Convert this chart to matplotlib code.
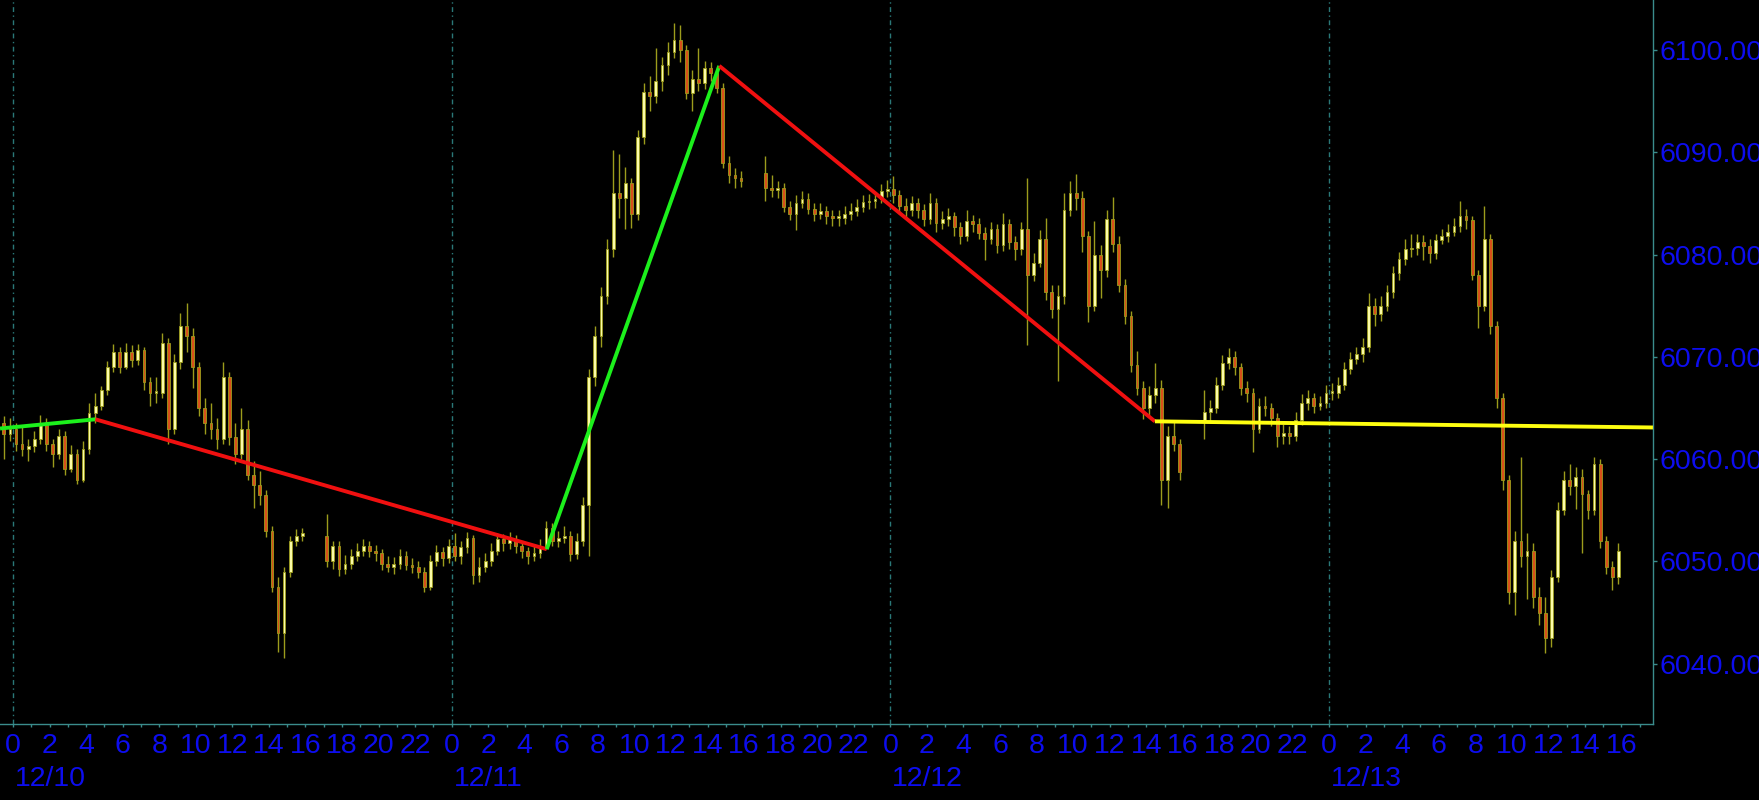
import numpy as np
import matplotlib
matplotlib.use('Agg')
from matplotlib import pyplot as plt
import matplotlib.transforms as mtransforms

# hours are counted from 12/10 00:00, one bar = 20 minutes
sess_start = [-0.67, 17.0, 41.0, 65.0]
sess_open = [6063.5, 6052.5, 6088.0, 6063.6]

# 12/09 23:20 -> 12/10 16:00
close_a = [6062.5, 6063.0, 6061.5, 6061.0, 6061.3, 6062.0, 6063.5, 6061.5, 6060.5, 6062.3,
           6059.0, 6060.5, 6058.0, 6061.0, 6064.5, 6065.2, 6066.8, 6069.0, 6070.5, 6069.0,
           6070.5, 6069.7, 6070.7, 6067.5, 6066.5, 6066.5, 6071.4, 6063.0, 6069.5, 6073.0,
           6072.0, 6069.0, 6065.0, 6063.5, 6063.0, 6062.0, 6068.0, 6062.2, 6060.5, 6063.0,
           6058.5, 6057.5, 6056.5, 6053.0, 6047.5, 6043.0, 6049.0, 6052.0, 6052.5, 6052.8]
high_a = [6064.2, 6064.0, 6063.5, 6063.3, 6062.0, 6062.8, 6064.3, 6064.0, 6062.0, 6063.0,
          6062.8, 6061.4, 6061.0, 6061.8, 6065.5, 6066.5, 6067.2, 6069.6, 6071.3, 6071.0,
          6071.4, 6071.2, 6071.3, 6071.0, 6068.0, 6068.0, 6072.3, 6071.8, 6070.3, 6074.3,
          6075.3, 6072.8, 6069.5, 6066.0, 6065.5, 6064.0, 6069.5, 6068.5, 6063.5, 6065.0,
          6063.8, 6059.8, 6058.8, 6057.0, 6053.5, 6048.5, 6049.5, 6052.5, 6053.2, 6053.3]
low_a = [6060.0, 6061.8, 6060.8, 6060.3, 6059.8, 6060.7, 6061.5, 6060.8, 6059.2, 6060.0,
         6058.5, 6058.7, 6057.6, 6057.8, 6060.5, 6063.5, 6064.8, 6066.3, 6068.5, 6068.4,
         6068.8, 6069.0, 6069.2, 6066.8, 6065.2, 6065.5, 6066.0, 6061.5, 6062.5, 6068.8,
         6070.5, 6067.0, 6064.2, 6062.5, 6062.0, 6061.0, 6061.5, 6061.4, 6059.5, 6060.0,
         6058.0, 6055.2, 6055.5, 6052.4, 6047.0, 6041.2, 6040.6, 6048.5, 6051.5, 6052.0]

# 12/10 17:00 -> 12/11 16:00
close_b = [6050.0, 6051.5, 6049.3, 6049.8, 6050.5, 6051.0, 6051.5, 6051.0, 6050.8, 6049.8,
           6049.5, 6049.8, 6050.5, 6049.7, 6049.5, 6049.0, 6047.5, 6050.0, 6050.9, 6050.3,
           6051.5,
           6050.5, 6051.4, 6052.3, 6048.7, 6049.5, 6050.0, 6051.0, 6052.2, 6051.8, 6052.2,
           6051.5, 6051.0, 6050.5, 6050.8, 6051.5, 6053.3, 6052.0, 6052.3, 6052.5, 6050.7,
           6052.0, 6055.5, 6068.0, 6072.0, 6076.0, 6080.5, 6086.0, 6085.5, 6087.0, 6084.0,
           6091.5, 6095.9, 6095.5, 6097.0, 6098.5, 6099.8, 6101.0, 6100.0, 6095.8, 6097.2,
           6096.8, 6098.2, 6097.8, 6096.3, 6089.0, 6087.8, 6087.5, 6087.2]
high_b = [6054.6, 6052.0, 6052.0, 6050.6, 6051.2, 6051.8, 6052.2, 6052.0, 6051.6, 6051.2,
          6050.5, 6050.4, 6051.2, 6051.0, 6050.3, 6050.0, 6049.5, 6050.6, 6051.6, 6051.4,
          6052.2,
          6052.8, 6052.0, 6052.9, 6052.6, 6050.4, 6050.8, 6051.8, 6052.8, 6052.7, 6052.9,
          6052.6, 6052.0, 6051.4, 6051.5, 6052.2, 6054.0, 6053.8, 6053.0, 6053.5, 6053.0,
          6052.8, 6056.3, 6068.8, 6073.0, 6076.8, 6081.5, 6090.2, 6089.8, 6088.6, 6087.5,
          6092.2, 6096.8, 6097.5, 6100.2, 6099.3, 6100.8, 6102.6, 6102.4, 6100.5, 6098.0,
          6100.2, 6098.9, 6098.8, 6098.3, 6096.8, 6089.6, 6088.5, 6088.2]
low_b = [6049.5, 6049.3, 6048.6, 6048.8, 6049.3, 6050.0, 6050.5, 6050.4, 6050.0, 6049.2,
         6049.0, 6048.8, 6049.3, 6049.2, 6048.9, 6048.4, 6047.0, 6047.2, 6049.6, 6049.6,
         6049.9,
         6050.0, 6049.8, 6050.8, 6047.8, 6048.0, 6049.0, 6049.6, 6050.6, 6051.0, 6051.2,
         6050.8, 6050.3, 6049.8, 6050.0, 6050.3, 6051.2, 6051.5, 6051.4, 6051.8, 6050.0,
         6050.2, 6051.5, 6050.5, 6067.2, 6071.0, 6075.2, 6079.8, 6083.6, 6082.5, 6082.6,
         6083.4, 6090.8, 6094.0, 6094.8, 6096.0, 6097.6, 6099.2, 6098.8, 6095.2, 6094.0,
         6096.0, 6096.2, 6097.0, 6095.8, 6088.5, 6087.0, 6086.5, 6086.6]

# 12/11 17:00 -> 12/12 16:00
close_c = [6086.5, 6086.3, 6086.5, 6084.7, 6084.0, 6085.0, 6085.4, 6084.5, 6084.0, 6084.3,
           6083.8, 6083.6, 6083.6, 6084.0, 6084.3, 6084.7, 6085.1, 6085.2, 6085.4, 6086.2,
           6086.4,
           6085.8, 6084.8, 6084.4, 6085.0, 6084.4, 6083.5, 6085.0, 6083.1, 6083.5, 6083.8,
           6082.7, 6081.8, 6083.3, 6083.0, 6082.1, 6081.5, 6082.5, 6080.9, 6083.0, 6081.2,
           6080.5, 6082.5, 6078.0, 6079.2, 6081.5, 6076.3, 6074.7, 6076.0, 6084.4, 6086.0,
           6085.5, 6081.8, 6075.0, 6080.0, 6078.5, 6083.5, 6081.0, 6077.0, 6074.0, 6069.2,
           6067.0, 6065.0, 6066.3, 6067.0, 6058.0, 6062.3, 6061.5, 6058.7]
high_c = [6089.6, 6087.8, 6087.2, 6087.0, 6085.2, 6085.8, 6086.2, 6086.0, 6085.0, 6085.0,
          6084.8, 6084.4, 6084.4, 6084.8, 6085.0, 6085.4, 6085.8, 6085.9, 6086.0, 6086.9,
          6087.3,
          6087.7, 6086.3, 6085.5, 6085.7, 6085.5, 6084.9, 6086.0, 6085.5, 6084.3, 6084.6,
          6084.2, 6083.2, 6084.4, 6083.9, 6083.6, 6082.7, 6083.2, 6083.0, 6084.1, 6083.5,
          6081.8, 6083.2, 6087.5, 6080.2, 6082.4, 6083.6, 6077.0, 6077.0, 6086.0, 6087.2,
          6087.9, 6086.2, 6082.3, 6083.3, 6080.9, 6084.4, 6085.6, 6081.8, 6077.6, 6074.5,
          6070.6, 6067.6, 6067.2, 6069.4, 6067.7, 6063.2, 6063.6, 6062.0]
low_c = [6085.2, 6085.6, 6085.5, 6084.2, 6083.4, 6082.4, 6084.6, 6084.0, 6083.3, 6083.5,
         6083.0, 6082.8, 6082.8, 6083.0, 6083.4, 6083.8, 6084.2, 6084.5, 6084.6, 6085.0,
         6085.6,
         6085.0, 6084.0, 6083.6, 6083.8, 6083.6, 6082.8, 6083.0, 6082.2, 6082.5, 6082.8,
         6081.8, 6081.0, 6081.3, 6082.2, 6081.5, 6079.5, 6081.0, 6080.2, 6080.4, 6080.5,
         6079.5, 6080.0, 6071.2, 6077.4, 6078.8, 6075.6, 6073.8, 6067.6, 6075.2, 6083.8,
         6084.4, 6080.3, 6073.4, 6074.5, 6075.8, 6077.8, 6080.3, 6076.3, 6073.2, 6068.5,
         6066.3, 6063.9, 6064.3, 6065.5, 6055.5, 6055.2, 6060.8, 6058.0]

# 12/12 17:00 -> 12/13 16:00
close_d = [6064.6, 6065.0, 6067.3, 6069.4, 6070.0, 6069.0, 6067.0, 6066.5, 6063.0, 6065.2,
           6065.0, 6064.0, 6062.3, 6062.6, 6062.3, 6063.8, 6065.5, 6066.0, 6065.2, 6065.5,
           6066.5,
           6066.5, 6067.3, 6068.8, 6069.8, 6070.3, 6071.0, 6075.0, 6074.2, 6075.0, 6076.3,
           6078.2, 6079.6, 6080.5, 6080.6, 6081.2, 6080.8, 6080.2, 6081.4, 6081.8, 6082.2,
           6082.8, 6083.8, 6083.4, 6078.0, 6075.0, 6081.5, 6073.0, 6066.0, 6058.0, 6047.0,
           6052.0, 6050.5, 6051.0, 6046.5, 6045.0, 6042.5, 6048.5, 6055.0, 6058.0, 6057.4,
           6058.3, 6056.6, 6055.0, 6059.5, 6052.0, 6049.5, 6048.5, 6051.0]
high_d = [6066.8, 6065.8, 6068.0, 6070.2, 6070.9, 6070.6, 6069.4, 6067.6, 6067.0, 6066.0,
          6066.2, 6065.5, 6064.5, 6063.4, 6063.2, 6064.6, 6066.4, 6066.8, 6066.5, 6066.2,
          6067.3,
          6067.4, 6068.0, 6069.5, 6070.5, 6071.0, 6071.8, 6076.2, 6075.8, 6076.0, 6077.0,
          6078.9, 6080.3, 6081.5, 6082.0, 6082.0, 6081.9, 6081.5, 6082.0, 6082.5, 6083.0,
          6083.6, 6085.2, 6084.5, 6083.8, 6078.5, 6084.8, 6082.0, 6073.5, 6066.5, 6058.5,
          6053.0, 6060.2, 6052.8, 6051.8, 6047.5, 6046.5, 6049.2, 6055.8, 6058.8, 6059.5,
          6059.2, 6059.0, 6057.0, 6060.2, 6060.0, 6052.5, 6050.0, 6051.8]
low_d = [6062.0, 6063.5, 6064.5, 6066.8, 6068.8, 6068.2, 6066.3, 6065.6, 6060.7, 6062.6,
         6064.2, 6063.2, 6061.2, 6061.5, 6061.5, 6061.8, 6063.3, 6064.8, 6064.5, 6064.8,
         6065.0,
         6065.8, 6066.0, 6066.8, 6068.3, 6069.3, 6069.5, 6070.5, 6073.0, 6073.5, 6074.5,
         6075.8, 6077.5, 6079.0, 6079.8, 6080.0, 6079.5, 6079.2, 6079.6, 6081.0, 6081.2,
         6081.8, 6082.2, 6082.5, 6077.5, 6072.8, 6074.5, 6072.2, 6065.0, 6057.0, 6045.8,
         6044.8, 6049.5, 6046.3, 6045.5, 6043.8, 6041.1, 6041.6, 6048.0, 6054.5, 6056.5,
         6055.1, 6050.8, 6054.2, 6054.5, 6051.3, 6048.8, 6047.2, 6047.8]

closes = [close_a, close_b, close_c, close_d]
highs = [high_a, high_b, high_c, high_d]
lows = [low_a, low_b, low_c, low_d]

# zigzag swing points (hour, price)
zz_hours = [-0.71, 4.51, 29.2, 38.64, 62.47, 89.72]
zz_prices = [6063.0, 6063.9, 6051.2, 6098.45, 6063.7, 6063.1]
zz_colors = ['#1cf01c', '#f01010', '#1cf01c', '#f01010', '#ffff10']

day_labels = ['12/10', '12/11', '12/12', '12/13']
price_ticks = [6040, 6050, 6060, 6070, 6080, 6090, 6100]

BLUE = '#0d0dee'
TEAL = '#3a8c8c'
GRID = '#2a7878'
WICK = '#9c9c1c'
UP = '#fbfba8'
DOWN = '#d8501a'

fig = plt.figure(figsize=[17.59, 8], dpi=100, facecolor='black')
ax = fig.add_axes([0.0, 0.0956, 0.9397, 0.9044])
ax.set_facecolor('black')

#candles
bar_w = 1.0 / 3
for s, o0, cl, hi, lo in zip(sess_start, sess_open, closes, highs, lows):
    cl = np.array(cl)
    op = np.concatenate([[o0], cl[:-1]])
    x = s + np.arange(len(cl)) * bar_w + bar_w / 2
    ax.vlines(x, lo, hi, color=WICK, linewidth=1.0, zorder=2)
    up = cl >= op
    body_lo = np.minimum(op, cl)
    body_h = np.maximum(np.abs(cl - op), 0.15)
    ax.bar(x[up], body_h[up], bottom=body_lo[up], width=bar_w * 0.45,
           color=UP, edgecolor=WICK, linewidth=0.6, zorder=3)
    ax.bar(x[~up], body_h[~up], bottom=body_lo[~up], width=bar_w * 0.45,
           color=DOWN, edgecolor=WICK, linewidth=0.6, zorder=3)

#zigzag lines
for i in range(len(zz_hours) - 1):
    ax.plot(zz_hours[i:i + 2], zz_prices[i:i + 2], color=zz_colors[i],
            linewidth=2.8, solid_capstyle='butt', zorder=5)

#day separators
for d in range(len(day_labels)):
    ax.axvline(d * 24, color=GRID, linewidth=1.0, linestyle=(0, (3.5, 2.5, 1, 2.5)), zorder=1)

ax.set_xlim(-0.711, 89.72)
ax.set_ylim(6034.16, 6104.89)

for side in ['left', 'top']:
    ax.spines[side].set_visible(False)
for side in ['right', 'bottom']:
    ax.spines[side].set_color(TEAL)
    ax.spines[side].set_linewidth(1.0)

# right price axis
ax.yaxis.tick_right()
ax.set_yticks(price_ticks)
ax.set_yticklabels(['%.3f' % p for p in price_ticks])
ax.tick_params(axis='y', colors=TEAL, labelcolor=BLUE, length=3, width=1,
               pad=1.5, labelsize=20.5)

# hour axis
hour_ticks = np.arange(0, 90, 2)
ax.set_xticks(hour_ticks)
ax.set_xticklabels([str(h % 24) for h in hour_ticks])
ax.set_xticks(np.arange(0, 90, 1), minor=True)
ax.tick_params(axis='x', which='both', colors=TEAL, labelcolor=BLUE, length=2.5,
               width=1, pad=4.5, labelsize=20.5)

for lab in ax.get_xticklabels() + ax.get_yticklabels():
    lab.set_family('Liberation Sans')

trans = mtransforms.blended_transform_factory(ax.transData, ax.transAxes)
for d, txt in enumerate(day_labels):
    ax.text(d * 24 + 0.1, -0.077, txt, transform=trans, ha='left', va='center',
            color=BLUE, fontsize=20.5, family='Liberation Sans')

plt.savefig('out.png', dpi=100, facecolor='black')
